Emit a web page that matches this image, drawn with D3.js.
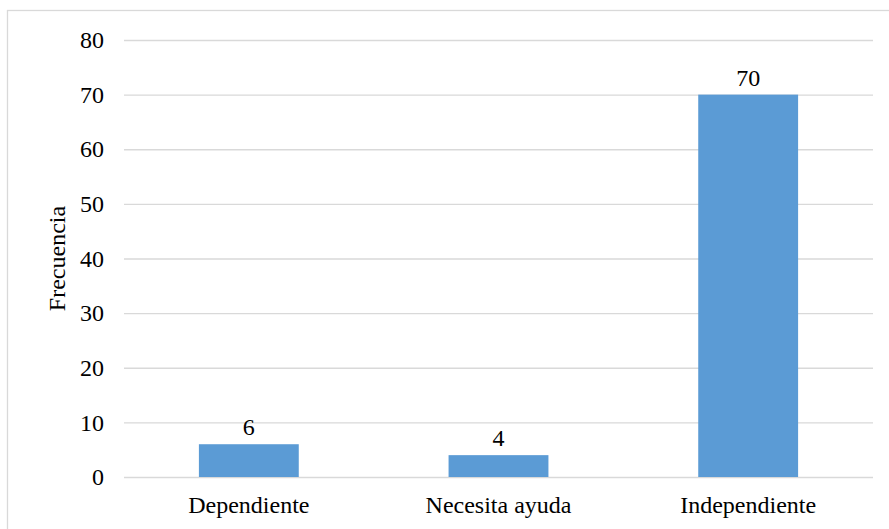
<!DOCTYPE html>
<html>
<head>
<meta charset="utf-8">
<script src="https://cdn.jsdelivr.net/npm/d3@7"></script>
<style>
  html, body { margin: 0; padding: 0; background: #fff; }
  svg { display: block; }
  text { font-family: "Liberation Serif", "Times New Roman", serif; fill: #000; }
</style>
</head>
<body>
<svg id="chart" width="889" height="529"></svg>
<script>
// Frequency per category
const categories = ["Dependiente", "Necesita ayuda", "Independiente"];
const values = [6, 4, 70];
const yTicks = [0, 10, 20, 30, 40, 50, 60, 70, 80];
const yTitle = "Frecuencia";

const W = 889, H = 529;
const margin = { top: 40, right: 16, bottom: 52, left: 124 };
const fontSize = 24;

const svg = d3.select("#chart");

// outer chart frame
svg.append("rect")
  .attr("x", 7.5).attr("y", 10.5)
  .attr("width", W + 10).attr("height", H + 10)
  .attr("fill", "none").attr("stroke", "#d9d9d9").attr("stroke-width", 1.3);

const x = d3.scaleBand()
  .domain(categories)
  .range([margin.left, W - margin.right])
  .paddingInner(0.6).paddingOuter(0.3);

const y = d3.scaleLinear()
  .domain([0, 80])
  .range([H - margin.bottom, margin.top]);

// gridlines + y tick labels
const yAxis = d3.axisLeft(y).tickValues(yTicks).tickSize(-(W - margin.right - margin.left)).tickPadding(20);
const gy = svg.append("g")
  .attr("transform", `translate(${margin.left},0)`)
  .call(yAxis);
gy.select(".domain").remove();
gy.selectAll(".tick line").attr("stroke", "#d9d9d9").attr("stroke-width", 1.3);
gy.selectAll(".tick text")
  .attr("font-size", fontSize)
  .attr("fill", "#000")
  .style("font-family", "'Liberation Serif', serif");

// bars
svg.append("g").selectAll("rect")
  .data(values)
  .join("rect")
  .attr("x", (d, i) => x(categories[i]))
  .attr("y", d => y(d))
  .attr("width", x.bandwidth())
  .attr("height", d => y(0) - y(d))
  .attr("fill", "#5b9bd5");

// value labels
svg.append("g").selectAll("text")
  .data(values)
  .join("text")
  .attr("x", (d, i) => x(categories[i]) + x.bandwidth() / 2)
  .attr("y", d => y(d) - 9)
  .attr("text-anchor", "middle")
  .attr("font-size", fontSize)
  .text(d => d);

// category axis
const xAxis = d3.axisBottom(x).tickSize(0).tickPadding(19);
const gx = svg.append("g")
  .attr("transform", `translate(0,${y(0)})`)
  .call(xAxis);
gx.select(".domain").remove();
gx.selectAll(".tick text")
  .attr("font-size", fontSize)
  .attr("fill", "#000")
  .style("font-family", "'Liberation Serif', serif");

// y axis title
svg.append("text")
  .attr("transform", `translate(65,${(y(0) + y(80)) / 2}) rotate(-90)`)
  .attr("text-anchor", "middle")
  .attr("font-size", fontSize)
  .text(yTitle);
</script>
</body>
</html>
